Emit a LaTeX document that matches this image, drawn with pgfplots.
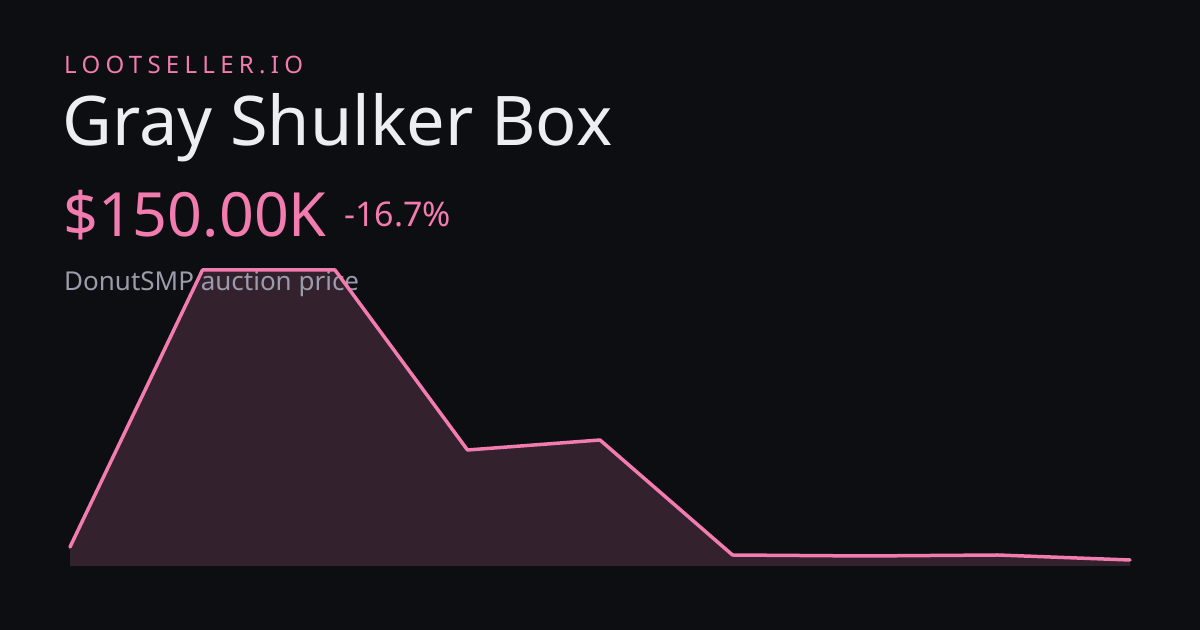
\documentclass[border=0pt]{standalone}
\usepackage{fontspec}
\setmainfont{Noto Sans}
\newfontfamily\spaced[LetterSpace=22]{Noto Sans}
\usepackage{pgfplots}
\pgfplotsset{compat=1.18}
\definecolor{bg}{HTML}{0D0E11}
\definecolor{fillc}{HTML}{33212E}
\definecolor{linec}{HTML}{F27BB0}
\definecolor{titlec}{HTML}{EDEEF2}
\definecolor{subc}{HTML}{9A9CAB}
\pgfplotsset{myax/.style={at={(70bp,64bp)},anchor=south west,scale only axis,width=1060bp,height=296bp,
  xmin=0,xmax=8,ymin=114,ymax=1890,hide axis,clip=false}}
\begin{document}
\begin{tikzpicture}[x=1bp,y=1bp]
\useasboundingbox (0,0) rectangle (1200,630);
\fill[bg] (0,0) rectangle (1200,630);
\begin{axis}[myax]
\addplot[fill=fillc,draw=none] coordinates {(0,114) (0,228) (1,1890) (2,1890) (3,810) (4,870) (5,180) (6,174) (7,180) (8,150) (8,114)} \closedcycle;
\end{axis}
\node[anchor=base west,inner sep=0,text=linec,font=\spaced\fontsize{24bp}{28bp}\selectfont] at (64,556) {LOOTSELLER.IO};
\node[anchor=base west,inner sep=0,text=titlec,font=\fontsize{68.5bp}{78bp}\selectfont] at (62,484) {Gray Shulker Box};
\node[anchor=base west,inner sep=0,text=linec,font=\fontsize{61bp}{70bp}\selectfont] at (63,393) {\$150.00K};
\node[anchor=base west,inner sep=0,text=linec,font=\fontsize{34bp}{40bp}\selectfont] at (344,403) {-16.7\%};
\node[anchor=base west,inner sep=0,text=subc,font=\fontsize{26bp}{31bp}\selectfont] at (64,339) {DonutSMP auction price};
\begin{axis}[myax]
\addplot[linec,line width=3.5bp,line join=round,line cap=round] coordinates {(0,228) (1,1890) (2,1890) (3,810) (4,870) (5,180) (6,174) (7,180) (8,150)};
\end{axis}
\end{tikzpicture}
\end{document}
